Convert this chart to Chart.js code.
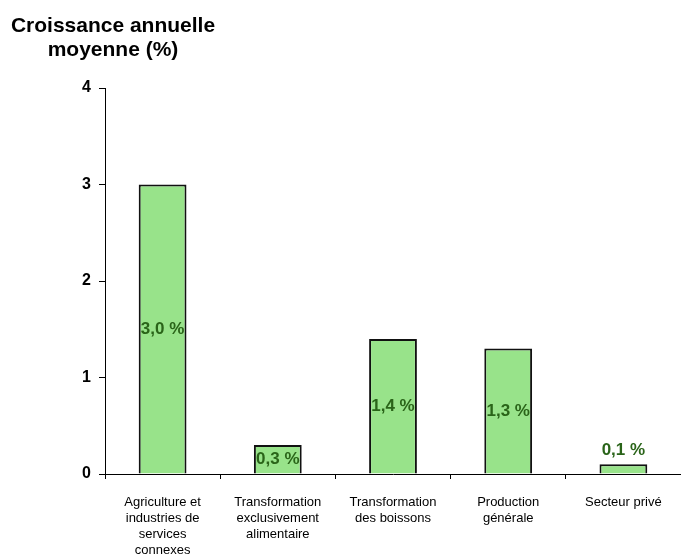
<!DOCTYPE html>
<html lang="fr">
  <head>
    <meta charset="UTF-8" />
    <script src="https://cdn.jsdelivr.net/npm/chart.js"></script>
    <style>
      body { margin: 0; padding: 0; background: #ffffff; }
      #wrap { width: 681px; height: 555px; }
    </style>
  </head>
  <body>
    <div id="wrap"><canvas id="chart" width="681" height="555"></canvas></div>
    <script>
      const categories = [
        ["Agriculture et", "industries de", "services", "connexes"],
        ["Transformation", "exclusivement", "alimentaire"],
        ["Transformation", "des boissons"],
        ["Production", "générale"],
        ["Secteur privé"]
      ];
      const growth = [3.0, 0.3, 1.4, 1.3, 0.1];
      const yTicks = [0, 1, 2, 3, 4];
      const titleLines = ["Croissance annuelle", "moyenne (%)"];

      const fontFamily = "'Liberation Sans', Arial, sans-serif";

      // title in the top-left corner, centred over the y axis
      const titlePlugin = {
        id: "cornerTitle",
        afterDraw(chart) {
          const ctx = chart.ctx;
          ctx.save();
          ctx.font = "bold 21px " + fontFamily;
          ctx.fillStyle = "#000";
          ctx.textAlign = "center";
          ctx.textBaseline = "alphabetic";
          titleLines.forEach((t, i) => ctx.fillText(t, 113, 32 + i * 24));
          ctx.restore();
        }
      };

      // value labels: centred in the bar, above it when the bar is too short
      const valueLabels = {
        id: "valueLabels",
        afterDatasetsDraw(chart) {
          const ctx = chart.ctx;
          const meta = chart.getDatasetMeta(0);
          ctx.save();
          ctx.font = "bold 17px " + fontFamily;
          ctx.fillStyle = "#2a6419";
          ctx.textAlign = "center";
          ctx.textBaseline = "middle";
          meta.data.forEach((bar, i) => {
            const txt = growth[i].toFixed(1).replace(".", ",") + " %";
            const h = bar.base - bar.y;
            const y = h < 16 ? bar.y - 14 : (bar.y + bar.base) / 2;
            ctx.fillText(txt, bar.x, y);
          });
          ctx.restore();
        }
      };

      new Chart(document.getElementById("chart"), {
        type: "bar",
        data: {
          labels: categories,
          datasets: [{
            data: growth,
            backgroundColor: "#98e38a",
            borderColor: "#111",
            borderWidth: 2,
            categoryPercentage: 1,
            barPercentage: 0.415
          }]
        },
        options: {
          responsive: false,
          animation: false,
          layout: { padding: { top: 88, right: 0, bottom: 0, left: 0 } },
          plugins: {
            legend: { display: false },
            tooltip: { enabled: false }
          },
          scales: {
            x: {
              offset: true,
              grid: {
                offset: true,
                drawOnChartArea: false,
                drawTicks: true,
                tickLength: 5,
                color: "#000"
              },
              border: { color: "#000", width: 1 },
              ticks: {
                color: "#000",
                padding: 15,
                maxRotation: 0,
                autoSkip: false,
                font: { family: fontFamily, size: 13, lineHeight: 1.24 }
              },
              afterFit(s) { s.height = 81; }
            },
            y: {
              min: 0,
              max: 4,
              afterBuildTicks(s) { s.ticks = yTicks.map(v => ({ value: v })); },
              grid: {
                drawOnChartArea: false,
                drawTicks: true,
                tickLength: 6,
                color: "#000"
              },
              border: { color: "#000", width: 1 },
              ticks: {
                color: "#000",
                padding: 8,
                font: { family: fontFamily, size: 16, weight: "bold" }
              },
              afterFit(s) { s.width = 105; }
            }
          }
        },
        plugins: [titlePlugin, valueLabels]
      });
    </script>
  </body>
</html>
